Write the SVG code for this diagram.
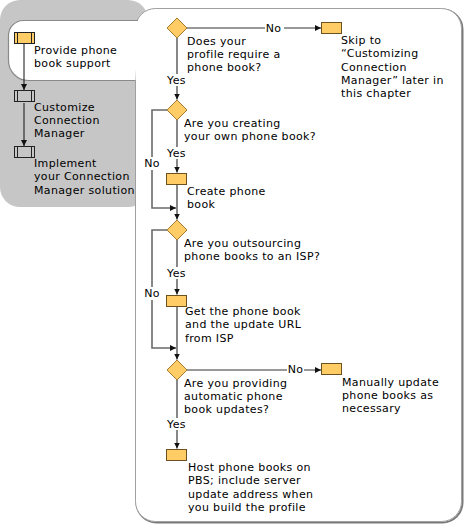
<svg xmlns="http://www.w3.org/2000/svg" width="464" height="524" viewBox="0 0 464 524">
<style>
.t{font-family:"DejaVu Sans",Verdana,sans-serif;font-size:11px;letter-spacing:0.35px;fill:#000}
.m{text-anchor:middle}
.c{fill:none;stroke:#6a6a6a;stroke-width:1.6}
.h{fill:none;stroke:#333;stroke-width:1}
.lc{fill:none;stroke:#111;stroke-width:1}
.dia{fill:#ffcc66;stroke:#a87a30;stroke-width:1}
.box{fill:#ffcc66;stroke:#6b5020;stroke-width:1}
.ico{stroke:#222;stroke-width:1}
</style>
<defs>
<marker id="ah" markerWidth="7" markerHeight="6" refX="6" refY="3" orient="auto" markerUnits="userSpaceOnUse"><path d="M0,0 L6,3 L0,6 z" fill="#111"/></marker>
</defs>
<g id="background">
<rect x="0" y="0" width="148" height="207" rx="20" fill="#c6c6c6"/>
<rect x="136.5" y="9.5" width="326" height="513" rx="20" fill="none" stroke="#7a7a7a" stroke-width="2"/>
<rect x="135.5" y="8.5" width="326" height="513" rx="20" fill="#fff" stroke="#a0a0a0" stroke-width="1"/>
<path d="M138,20.5 H23 A15,15 0 0 0 8.5,35 V60 A20,20 0 0 0 28.5,80.5 H135.5" fill="#fff" stroke="#8a8a8a" stroke-width="1.2"/>
</g>
<g id="connectors">
<path class="lc" d="M24,44 V90" marker-end="url(#ah)"/>
<path class="lc" d="M24,103 V146" marker-end="url(#ah)"/>
<path class="h" d="M187,28 H265"/>
<path class="h" d="M284,28 H321" marker-end="url(#ah)"/>
<path class="c" d="M177,38 V74"/>
<path class="c" d="M177,86 V99.5" marker-end="url(#ah)"/>
<path class="c" d="M167,110 H152 V157"/>
<path class="c" d="M152,170 V208 H176" marker-end="url(#ah)"/>
<path class="c" d="M177,120 V147"/>
<path class="c" d="M177,159 V172.5" marker-end="url(#ah)"/>
<path class="c" d="M177,185 V219.5" marker-end="url(#ah)"/>
<path class="c" d="M167,230 H152 V287"/>
<path class="c" d="M152,300 V348 H176" marker-end="url(#ah)"/>
<path class="c" d="M177,240 V267"/>
<path class="c" d="M177,279 V294.5" marker-end="url(#ah)"/>
<path class="c" d="M177,307 V359.5" marker-end="url(#ah)"/>
<path class="h" d="M187,370 H287"/>
<path class="h" d="M304,370 H321" marker-end="url(#ah)"/>
<path class="c" d="M177,380 V418"/>
<path class="c" d="M177,430 V448.5" marker-end="url(#ah)"/>
<text class="t m" x="273.5" y="31.5">No</text>
<text class="t m" x="176.5" y="84">Yes</text>
<text class="t m" x="152" y="167">No</text>
<text class="t m" x="176.5" y="157">Yes</text>
<text class="t m" x="152" y="297">No</text>
<text class="t m" x="176.5" y="277">Yes</text>
<text class="t m" x="295.5" y="373">No</text>
<text class="t m" x="176.5" y="428">Yes</text>
</g>
<g id="phase1">
<rect class="ico" x="14.5" y="32.5" width="20" height="11" fill="#ffcc66"/>
<path class="ico" d="M17.5,32.5 V43.5 M31.5,32.5 V43.5"/>
<text class="t" x="34" y="54">Provide phone</text>
<text class="t" x="34" y="67">book support</text>
</g>
<g id="phase2">
<rect class="ico" x="14.5" y="90.5" width="20" height="11" fill="none"/>
<path class="ico" d="M17.5,90.5 V101.5 M31.5,90.5 V101.5"/>
<text class="t" x="34" y="111">Customize</text>
<text class="t" x="34" y="124">Connection</text>
<text class="t" x="34" y="137">Manager</text>
</g>
<g id="phase3">
<rect class="ico" x="14.5" y="146.5" width="20" height="11" fill="none"/>
<path class="ico" d="M17.5,146.5 V157.5 M31.5,146.5 V157.5"/>
<text class="t" x="34" y="167">Implement</text>
<text class="t" x="34" y="180">your Connection</text>
<text class="t" x="34" y="194">Manager solution</text>
</g>
<g id="d1">
<path class="dia" d="M177,18 L187,28 L177,38 L167,28 Z"/>
<text class="t" x="187" y="45">Does your</text>
<text class="t" x="187" y="58">profile require a</text>
<text class="t" x="187" y="71">phone book?</text>
</g>
<g id="b1">
<rect class="box" x="321.5" y="22.5" width="20" height="11"/>
<text class="t" x="341" y="44">Skip to</text>
<text class="t" x="341" y="57">“Customizing</text>
<text class="t" x="341" y="70.5">Connection</text>
<text class="t" x="341" y="84">Manager” later in</text>
<text class="t" x="341" y="97">this chapter</text>
</g>
<g id="d2">
<path class="dia" d="M177,100 L187,110 L177,120 L167,110 Z"/>
<text class="t" x="184" y="127">Are you creating</text>
<text class="t" x="184" y="140">your own phone book?</text>
</g>
<g id="b2">
<rect class="box" x="166.5" y="173.5" width="20" height="11"/>
<text class="t" x="187" y="195">Create phone</text>
<text class="t" x="187" y="208">book</text>
</g>
<g id="d3">
<path class="dia" d="M177,220 L187,230 L177,240 L167,230 Z"/>
<text class="t" x="184" y="247">Are you outsourcing</text>
<text class="t" x="184" y="260">phone books to an ISP?</text>
</g>
<g id="b3">
<rect class="box" x="166.5" y="295.5" width="20" height="11"/>
<text class="t" x="185" y="315">Get the phone book</text>
<text class="t" x="185" y="328">and the update URL</text>
<text class="t" x="185" y="342">from ISP</text>
</g>
<g id="d4">
<path class="dia" d="M177,360 L187,370 L177,380 L167,370 Z"/>
<text class="t" x="184" y="387">Are you providing</text>
<text class="t" x="184" y="400">automatic phone</text>
<text class="t" x="184" y="413">book updates?</text>
</g>
<g id="b4">
<rect class="box" x="321.5" y="363.5" width="20" height="11"/>
<text class="t" x="342" y="386">Manually update</text>
<text class="t" x="342" y="399">phone books as</text>
<text class="t" x="342" y="412">necessary</text>
</g>
<g id="b5">
<rect class="box" x="166.5" y="449.5" width="20" height="11"/>
<text class="t" x="188" y="471">Host phone books on</text>
<text class="t" x="188" y="484">PBS; include server</text>
<text class="t" x="188" y="497.5">update address when</text>
<text class="t" x="188" y="511">you build the profile</text>
</g>
</svg>
